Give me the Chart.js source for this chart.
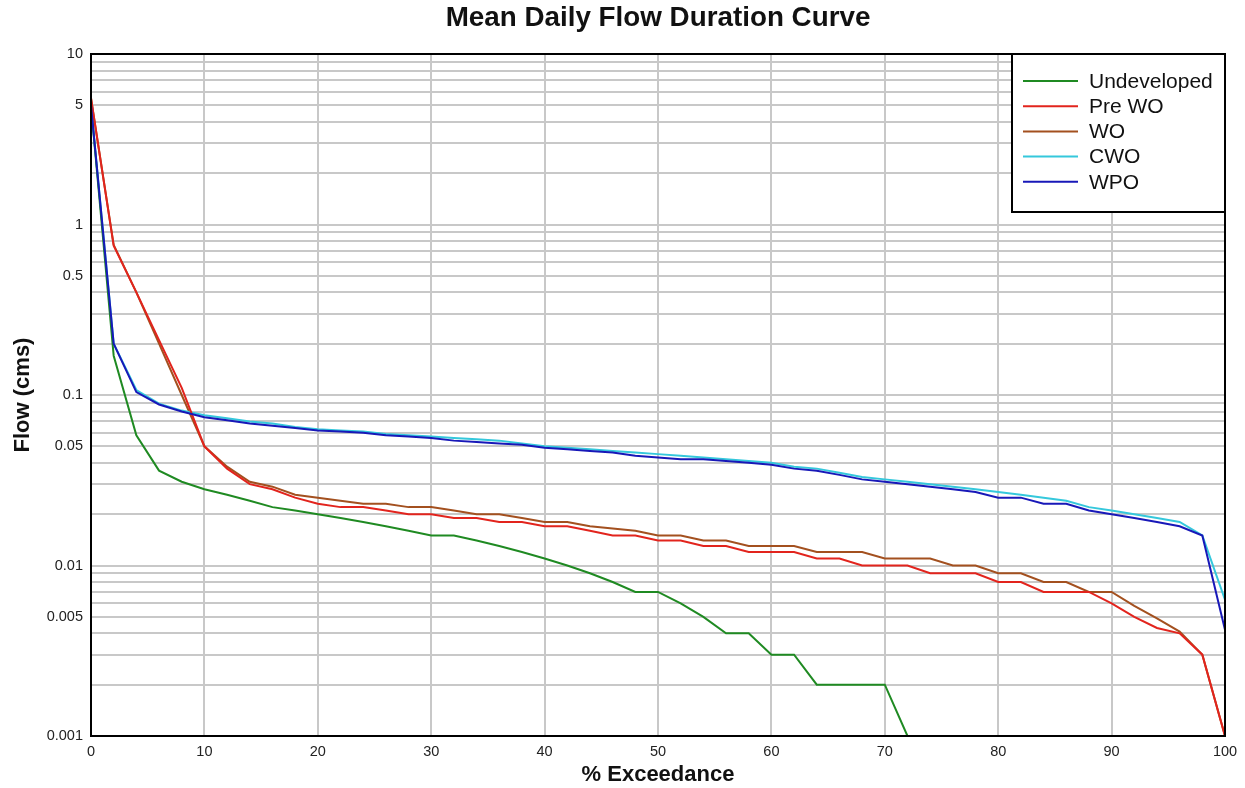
<!DOCTYPE html>
<html>
<head>
<meta charset="utf-8">
<script src="https://cdn.jsdelivr.net/npm/chart.js@4.4.1/dist/chart.umd.min.js"></script>
<style>
  html, body { margin: 0; padding: 0; background: #fff; }
  #wrap { width: 1245px; height: 788px; }
</style>
</head>
<body>
<div id="wrap"><canvas id="flowChart" width="1245" height="788"></canvas></div>
<script>
// % exceedance (x)
const pct = [0, 2, 4, 6, 8, 10, 12, 14, 16, 18, 20, 22, 24, 26, 28, 30, 32, 34, 36, 38, 40,
  42, 44, 46, 48, 50, 52, 54, 56, 58, 60, 62, 64, 66, 68, 70, 72, 74, 76, 78, 80,
  82, 84, 86, 88, 90, 92, 94, 96, 98, 100];

// flow (cms)
const undeveloped = [5, 0.17, 0.058, 0.036, 0.031, 0.028, 0.026, 0.024, 0.022, 0.021, 0.020,
  0.019, 0.018, 0.017, 0.016, 0.015, 0.015, 0.014, 0.013, 0.012, 0.011,
  0.010, 0.009, 0.008, 0.007, 0.007, 0.006, 0.005, 0.004, 0.004, 0.003,
  0.003, 0.002, 0.002, 0.002, 0.002, 0.001, null, null, null, null,
  null, null, null, null, null, null, null, null, null, null];
const preWO = [5.5, 0.75, 0.4, 0.21, 0.11, 0.05, 0.037, 0.030, 0.028, 0.025, 0.023,
  0.022, 0.022, 0.021, 0.020, 0.020, 0.019, 0.019, 0.018, 0.018, 0.017,
  0.017, 0.016, 0.015, 0.015, 0.014, 0.014, 0.013, 0.013, 0.012, 0.012,
  0.012, 0.011, 0.011, 0.010, 0.010, 0.010, 0.009, 0.009, 0.009, 0.008,
  0.008, 0.007, 0.007, 0.007, 0.006, 0.005, 0.0043, 0.004, 0.003, 0.001];
const wo = [5.5, 0.76, 0.4, 0.2, 0.1, 0.05, 0.038, 0.031, 0.029, 0.026, 0.025,
  0.024, 0.023, 0.023, 0.022, 0.022, 0.021, 0.020, 0.020, 0.019, 0.018,
  0.018, 0.017, 0.0165, 0.016, 0.015, 0.015, 0.014, 0.014, 0.013, 0.013,
  0.013, 0.012, 0.012, 0.012, 0.011, 0.011, 0.011, 0.010, 0.010, 0.009,
  0.009, 0.008, 0.008, 0.007, 0.007, 0.0058, 0.0049, 0.0041, 0.003, 0.001];
const cwo = [5, 0.2, 0.107, 0.089, 0.081, 0.076, 0.073, 0.070, 0.068, 0.065, 0.063,
  0.062, 0.061, 0.059, 0.058, 0.057, 0.056, 0.055, 0.054, 0.052, 0.050,
  0.049, 0.048, 0.047, 0.046, 0.045, 0.044, 0.043, 0.042, 0.041, 0.040,
  0.038, 0.037, 0.035, 0.033, 0.032, 0.031, 0.030, 0.029, 0.028, 0.027,
  0.026, 0.025, 0.024, 0.022, 0.021, 0.020, 0.019, 0.018, 0.015, 0.0063];
const wpo = [5, 0.2, 0.104, 0.088, 0.080, 0.074, 0.071, 0.068, 0.066, 0.064, 0.062,
  0.061, 0.060, 0.058, 0.057, 0.056, 0.054, 0.053, 0.052, 0.051, 0.049,
  0.048, 0.047, 0.046, 0.044, 0.043, 0.042, 0.042, 0.041, 0.040, 0.039,
  0.037, 0.036, 0.034, 0.032, 0.031, 0.030, 0.029, 0.028, 0.027, 0.025,
  0.025, 0.023, 0.023, 0.021, 0.020, 0.019, 0.018, 0.017, 0.015, 0.0042];

const seriesNames = ['Undeveloped', 'Pre WO', 'WO', 'CWO', 'WPO'];
const seriesColors = ['#1f8a22', '#e2241d', '#a3501f', '#35c8dc', '#1818b8'];
const drawOrder = [2, 1, 4, 3, 0];

const xTicks = [0, 10, 20, 30, 40, 50, 60, 70, 80, 90, 100];
const yLabelled = [10, 5, 1, 0.5, 0.1, 0.05, 0.01, 0.005, 0.001];
const yLabels = ['10', '5', '1', '0.5', '0.1', '0.05', '0.01', '0.005', '0.001'];

const FONT = "'Liberation Sans', Arial, sans-serif";
Chart.defaults.font.family = FONT;
Chart.defaults.color = '#222';

function pts(vals) {
  return pct.map((x, i) => ({ x: x, y: vals[i] }));
}

// grid lines 1..9 per decade
function logGrid(min, max) {
  const out = [];
  for (let e = Math.log10(min); e < Math.log10(max); e++) {
    for (let m = 1; m <= 9; m++) out.push(Number((m * Math.pow(10, e)).toPrecision(3)));
  }
  out.push(max);
  return out;
}

const frameAndTitle = {
  id: 'frameAndTitle',
  afterDraw(chart) {
    const { ctx, chartArea: a } = chart;
    ctx.save();
    ctx.strokeStyle = '#000';
    ctx.lineWidth = 2;
    ctx.strokeRect(a.left, a.top, a.right - a.left, a.bottom - a.top);

    // legend box in top right corner
    const w = 213, h = 158;
    const lx = a.right - w, ly = a.top;
    ctx.fillStyle = '#fff';
    ctx.fillRect(lx, ly, w, h);
    ctx.strokeRect(lx, ly, w, h);
    ctx.font = '21px ' + FONT;
    ctx.textBaseline = 'middle';
    chart.data.datasets.forEach((ds, i) => {
      const y = ly + 27 + i * 25.2;
      ctx.strokeStyle = ds.borderColor;
      ctx.lineWidth = 2;
      ctx.beginPath();
      ctx.moveTo(lx + 11, y);
      ctx.lineTo(lx + 66, y);
      ctx.stroke();
      ctx.fillStyle = '#111';
      ctx.fillText(ds.label, lx + 77, y + 1);
    });

    ctx.fillStyle = '#111';
    ctx.font = 'bold 27.8px ' + FONT;
    ctx.textAlign = 'center';
    ctx.textBaseline = 'middle';
    ctx.fillText('Mean Daily Flow Duration Curve', (a.left + a.right) / 2, 18);
    ctx.restore();
  }
};

const ctx = document.getElementById('flowChart');
new Chart(ctx, {
  type: 'line',
  data: {
    datasets: [undeveloped, preWO, wo, cwo, wpo].map((vals, i) => ({
      label: seriesNames[i],
      data: pts(vals),
      borderColor: seriesColors[i],
      backgroundColor: seriesColors[i],
      borderWidth: 2,
      pointRadius: 0,
      tension: 0,
      spanGaps: false,
      order: drawOrder[i]
    }))
  },
  options: {
    responsive: false,
    animation: false,
    layout: { padding: { top: 54, right: 20, left: 0, bottom: 0 } },
    plugins: {
      legend: { display: false },
      title: { display: false },
      tooltip: { enabled: false }
    },
    scales: {
      x: {
        type: 'linear',
        min: 0,
        max: 100,
        afterBuildTicks: s => { s.ticks = xTicks.map(v => ({ value: v })); },
        afterFit: s => { s.height = 52; },
        ticks: { font: { size: 14.5 }, color: '#222', padding: 7, maxRotation: 0, autoSkip: false },
        grid: { color: '#c8c8c8', lineWidth: 2, drawTicks: false },
        border: { display: false },
        title: {
          display: true,
          text: '% Exceedance',
          font: { size: 22, weight: 'bold' },
          color: '#111',
          padding: { top: 0, bottom: 0 }
        }
      },
      y: {
        type: 'logarithmic',
        min: 0.001,
        max: 10,
        afterBuildTicks: s => { s.ticks = logGrid(0.001, 10).map(v => ({ value: v })); },
        afterFit: s => { s.width = 91; },
        ticks: {
          font: { size: 14.5 },
          color: '#222',
          padding: 8,
          autoSkip: false,
          callback: function (v) {
            const k = yLabelled.findIndex(t => Math.abs(t - v) / t < 1e-6);
            return k >= 0 ? yLabels[k] : '';
          }
        },
        grid: { color: '#c8c8c8', lineWidth: 2, drawTicks: false },
        border: { display: false },
        title: {
          display: true,
          text: 'Flow (cms)',
          font: { size: 22, weight: 'bold' },
          color: '#111',
          padding: { top: 10, bottom: 0 }
        }
      }
    }
  },
  plugins: [frameAndTitle]
});
</script>
</body>
</html>
